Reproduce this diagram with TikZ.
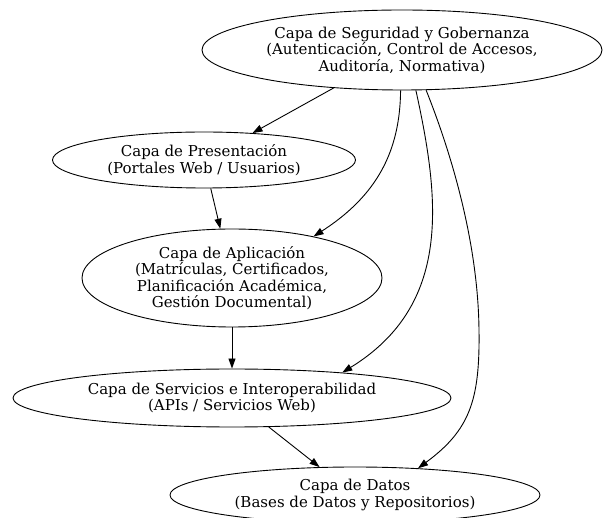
\documentclass[tikz,border=0pt]{standalone}
\usepackage{fontspec}
\setmainfont{DejaVu Serif}
\usepackage{tikz}
\usetikzlibrary{shapes.geometric,arrows.meta}
\tikzset{basic/.style={draw,line width=0.9pt,align=center,inner sep=0pt,font=\fontsize{15}{16.5}\selectfont}}
\tikzset{layer/.style={basic,ellipse}}
\tikzset{link/.style={draw,line width=0.9pt,->}}
\tikzset{>={Triangle[length=10pt,width=7pt]}}

\begin{document}
\begin{tikzpicture}[x=1pt,y=-1pt]
        \useasboundingbox (0,0) rectangle (603,518);
        \node[layer,minimum width=400pt,minimum height=80pt] (gob) at (402,50)
            {Capa de Seguridad y Gobernanza\\(Autenticación, Control de Accesos,\\Auditoría, Normativa)};
        \node[layer,minimum width=303pt,minimum height=56pt] (pres) at (204,160)
            {Capa de Presentación\\(Portales Web / Usuarios)};
        \node[layer,minimum width=300pt,minimum height=98pt] (apl) at (232,278)
            {Capa de Aplicación\\(Matrículas, Certificados,\\Planificación Académica,\\Gestión Documental)};
        \node[layer,minimum width=438pt,minimum height=58pt] (serv) at (232,398)
            {Capa de Servicios e Interoperabilidad\\(APIs / Servicios Web)};
        \node[layer,minimum width=370pt,minimum height=56pt] (datos) at (355,495)
            {Capa de Datos\\(Bases de Datos y Repositorios)};
        % straight links
            \path[link] (gob) -- (pres);
            \path[link] (pres) -- (apl);
            \path[link] (apl) -- (serv);
            \path[link] (serv) -- (datos);
        % curved links from the top layer
            \path[link] (gob.268) .. controls (400,150) and (378,195) .. (apl.27);
            \path[link] (gob.289) .. controls (440,200) and (452,305) .. (serv.13);
            \path[link] (gob.301) .. controls (450,150) and (478,240) .. (479,330)
                .. controls (480,400) and (470,430) .. (datos.23);
    \end{tikzpicture}
\end{document}
